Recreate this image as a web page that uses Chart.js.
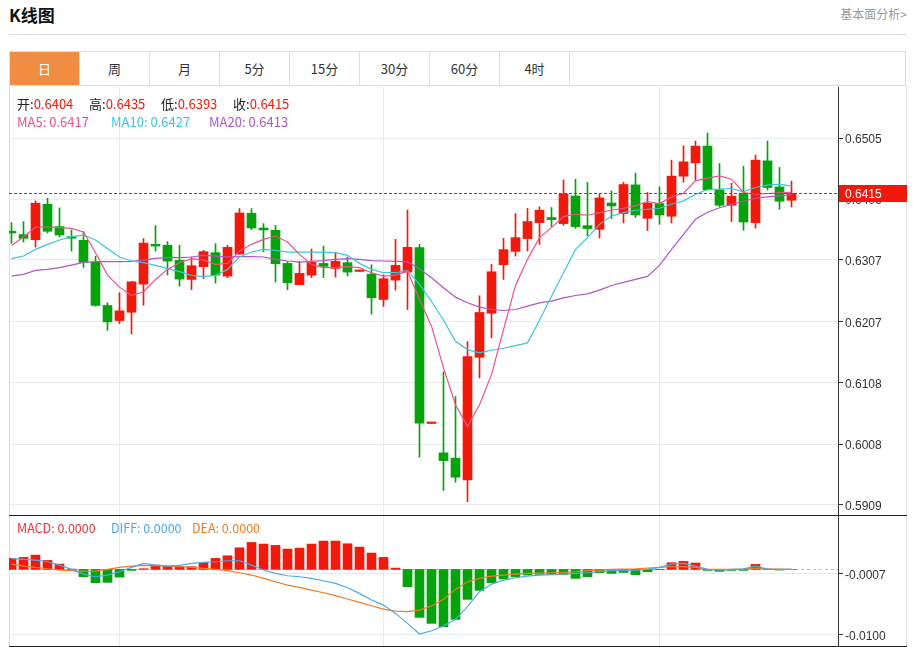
<!DOCTYPE html>
<html>
<head>
<meta charset="utf-8">
<script src="https://cdn.jsdelivr.net/npm/chart.js@4.4.0/dist/chart.umd.min.js"></script>
<style>
    body { margin: 0; background: #fff; font-family: "Noto Sans CJK SC", "Noto Sans", sans-serif; }
    #page { position: relative; width: 914px; height: 647px; overflow: hidden; }
    .abs { position: absolute; }
    #title { left: 9px; top: 2px; font-size: 17px; font-weight: bold; color: #111; }
    #more { right: 7px; top: 5px; font-size: 12px; color: #999; }
    #hr { left: 9px; top: 34px; width: 898px; height: 1px; background: #dcdcdc; }
    #tabs { left: 9px; top: 51px; width: 897px; height: 35px; border: 1px solid #dedede; display: flex; box-sizing: border-box; }
    .tab { width: 70px; height: 100%; border-right: 1px solid #dedede; box-sizing: border-box; text-align: center; line-height: 33px; font-size: 13px; color: #333; }
    .tab.on { background: #f28c40; color: #fff; }
    #frame { left: 9px; top: 86px; width: 898px; height: 561px; border-left: 1px solid #dedede; border-right: 1px solid #dedede; box-sizing: border-box; }
    .info { font-size: 13px; white-space: nowrap; }
    .k { color: #222; }
    .v { color: #f2190a; }
    .sep { height: 1px; background: #222; left: 9px; width: 898px; }
</style>
</head>
<body>
<div id="page">
    <div id="title" class="abs">K线图</div>
    <div id="more" class="abs">基本面分析&gt;</div>
    <div id="hr" class="abs"></div>
    <div id="tabs" class="abs">
        <div class="tab on">日</div><div class="tab">周</div><div class="tab">月</div><div class="tab">5分</div>
        <div class="tab">15分</div><div class="tab">30分</div><div class="tab">60分</div><div class="tab">4时</div>
    </div>
    <div id="frame" class="abs"></div>
    <div class="abs" style="left:9px;top:87px;width:898px;height:428px;"><canvas id="klineChart" width="898" height="428"></canvas></div>
    <div class="abs sep" style="top:515px;"></div>
    <div class="abs" style="left:9px;top:516px;width:898px;height:130px;"><canvas id="macdChart" width="898" height="130"></canvas></div>
    <div class="abs sep" style="top:646px;"></div>

    <div class="abs info" style="left:17px;top:94px;"><span class="k">开:</span><span class="v">0.6404</span></div>
    <div class="abs info" style="left:89px;top:94px;"><span class="k">高:</span><span class="v">0.6435</span></div>
    <div class="abs info" style="left:161px;top:94px;"><span class="k">低:</span><span class="v">0.6393</span></div>
    <div class="abs info" style="left:233px;top:94px;"><span class="k">收:</span><span class="v">0.6415</span></div>
    <div class="abs info" style="left:17px;top:112px;color:#f2508c;">MA5: 0.6417</div>
    <div class="abs info" style="left:111px;top:112px;color:#3cc5dc;">MA10: 0.6427</div>
    <div class="abs info" style="left:209px;top:112px;color:#b254c8;">MA20: 0.6413</div>

    <div class="abs info" style="left:17px;top:518px;font-size:12.5px;color:#f2303a;">MACD: 0.0000</div>
    <div class="abs info" style="left:111px;top:518px;font-size:12.5px;color:#4ea8f0;">DIFF: 0.0000</div>
    <div class="abs info" style="left:192px;top:518px;font-size:12.5px;color:#f47b20;">DEA: 0.0000</div>
</div>

<script>
// daily candles, oldest first
const openP = [0.63536, 0.63482, 0.63400, 0.63975, 0.63612, 0.63449, 0.63389, 0.63036, 0.62331, 0.62086,
    0.62221, 0.62677, 0.63324, 0.63308, 0.63063, 0.62754, 0.62961, 0.63189, 0.62808, 0.63166,
    0.63829, 0.63589, 0.63552, 0.63014, 0.62668, 0.62824, 0.63014, 0.62933, 0.63026, 0.62884,
    0.62840, 0.62428, 0.62743, 0.62873, 0.63270, 0.60414, 0.59937, 0.59850, 0.59497, 0.61489,
    0.62205, 0.62993, 0.63210, 0.63417, 0.63677, 0.63759, 0.63661, 0.64110, 0.63628, 0.63568,
    0.63996, 0.63824, 0.64290, 0.63747, 0.63987, 0.63780, 0.64431, 0.64648, 0.64920, 0.64208,
    0.63959, 0.64154, 0.63677, 0.64680, 0.64257, 0.6404];
const highP = [0.63677, 0.63694, 0.64029, 0.64073, 0.63915, 0.63557, 0.63531, 0.63129, 0.62375, 0.62537,
    0.62721, 0.63417, 0.63628, 0.63368, 0.63308, 0.63117, 0.63226, 0.63335, 0.63308, 0.63905,
    0.63905, 0.63661, 0.63633, 0.63042, 0.63047, 0.63247, 0.63296, 0.63182, 0.63117, 0.62884,
    0.62993, 0.62830, 0.63405, 0.63882, 0.63324, 0.60414, 0.61251, 0.60854, 0.61744, 0.62489,
    0.62998, 0.63422, 0.63824, 0.63910, 0.63931, 0.63922, 0.64371, 0.64382, 0.64329, 0.64138,
    0.64192, 0.64333, 0.64480, 0.64166, 0.64257, 0.64692, 0.64925, 0.65001, 0.65131, 0.64638,
    0.64317, 0.64594, 0.64773, 0.65001, 0.64573, 0.6435];
const lowP = [0.63340, 0.63361, 0.63280, 0.63508, 0.63443, 0.63215, 0.62949, 0.62319, 0.61928, 0.62037,
    0.61870, 0.62335, 0.63215, 0.62824, 0.62645, 0.62586, 0.62765, 0.62694, 0.62782, 0.63161,
    0.63563, 0.63205, 0.62710, 0.62586, 0.62668, 0.62782, 0.62782, 0.62791, 0.62808, 0.62884,
    0.62189, 0.62314, 0.62580, 0.62265, 0.59867, 0.60414, 0.59323, 0.59460, 0.59144, 0.61153,
    0.61805, 0.62754, 0.63133, 0.63215, 0.63324, 0.63612, 0.63633, 0.63584, 0.63459, 0.63426,
    0.63742, 0.63671, 0.63759, 0.63547, 0.63650, 0.63671, 0.64333, 0.64366, 0.64208, 0.63938,
    0.63694, 0.63552, 0.63589, 0.64208, 0.63894, 0.6393];
const closeP = [0.63508, 0.63422, 0.63992, 0.63536, 0.63475, 0.63422, 0.63031, 0.62331, 0.62065, 0.62244,
    0.62716, 0.63345, 0.63296, 0.63052, 0.62759, 0.62977, 0.63205, 0.62824, 0.63275, 0.63834,
    0.63589, 0.63557, 0.63010, 0.62700, 0.62852, 0.63031, 0.62966, 0.63047, 0.62873, 0.62884,
    0.62456, 0.62765, 0.62982, 0.63275, 0.60420, 0.60414, 0.59811, 0.59541, 0.61500, 0.62217,
    0.62879, 0.63238, 0.63433, 0.63694, 0.63878, 0.63726, 0.64143, 0.63612, 0.63580, 0.64078,
    0.63948, 0.64296, 0.63801, 0.63992, 0.63801, 0.64431, 0.64664, 0.64920, 0.64208, 0.63959,
    0.64106, 0.63687, 0.64692, 0.64247, 0.64024, 0.6415];

const ma5 = [0.63307, 0.63443, 0.63606, 0.63606, 0.63596, 0.63584, 0.63524, 0.63188, 0.62824, 0.62629,
    0.62493, 0.62554, 0.62754, 0.62917, 0.63026, 0.63091, 0.63069, 0.62999, 0.63015, 0.63214,
    0.63324, 0.63405, 0.63459, 0.63361, 0.63161, 0.62999, 0.62945, 0.62950, 0.62961, 0.62945,
    0.62863, 0.62808, 0.62824, 0.62889, 0.62428, 0.61994, 0.61316, 0.60718, 0.60365, 0.60718,
    0.61207, 0.61940, 0.62656, 0.63080, 0.63433, 0.63596, 0.63775, 0.63813, 0.63797, 0.63840,
    0.63878, 0.63910, 0.63948, 0.64020, 0.63987, 0.64095, 0.64154, 0.64355, 0.64399, 0.64436,
    0.64382, 0.64166, 0.64138, 0.64150, 0.64159, 0.6417];
const ma10 = [0.63091, 0.63134, 0.63242, 0.63324, 0.63394, 0.63449, 0.63475, 0.63394, 0.63253, 0.63118,
    0.63053, 0.63026, 0.62983, 0.62929, 0.62880, 0.62819, 0.62798, 0.62819, 0.62917, 0.63118,
    0.63199, 0.63242, 0.63226, 0.63199, 0.63199, 0.63199, 0.63199, 0.63188, 0.63145, 0.63015,
    0.62917, 0.62863, 0.62863, 0.62901, 0.62673, 0.62400, 0.62091, 0.61749, 0.61614, 0.61560,
    0.61603, 0.61636, 0.61679, 0.61723, 0.62091, 0.62482, 0.62863, 0.63242, 0.63433, 0.63649,
    0.63785, 0.63840, 0.63878, 0.63894, 0.63910, 0.63976, 0.64030, 0.64138, 0.64215, 0.64220,
    0.64231, 0.64176, 0.64247, 0.64285, 0.64301, 0.6427];
const ma20 = [0.62808, 0.62835, 0.62901, 0.62917, 0.62945, 0.62987, 0.63031, 0.63042, 0.63042, 0.63042,
    0.63047, 0.63069, 0.63096, 0.63107, 0.63107, 0.63118, 0.63145, 0.63134, 0.63118, 0.63124,
    0.63124, 0.63118, 0.63080, 0.63053, 0.63036, 0.63047, 0.63058, 0.63080, 0.63091, 0.63080,
    0.63058, 0.63053, 0.63047, 0.63042, 0.62928, 0.62781, 0.62618, 0.62466, 0.62374, 0.62303,
    0.62265, 0.62249, 0.62265, 0.62319, 0.62374, 0.62401, 0.62455, 0.62493, 0.62520, 0.62580,
    0.62656, 0.62705, 0.62754, 0.62803, 0.62982, 0.63242, 0.63487, 0.63731, 0.63845, 0.63918,
    0.63975, 0.64024, 0.64073, 0.64094, 0.64110, 0.6413];

const macdHist = [0.00168, 0.00183, 0.00218, 0.00137, 0.00081, 0.00005, -0.00112, -0.00203, -0.00198, -0.00117,
    -0.00015, 0.00010, 0.00066, 0.00051, 0.00041, 0.00041, 0.00107, 0.00168, 0.00208, 0.00330,
    0.00411, 0.00386, 0.00366, 0.00310, 0.00325, 0.00386, 0.00432, 0.00432, 0.00391, 0.00340,
    0.00249, 0.00183, 0.00020, -0.00264, -0.00732, -0.00823, -0.00874, -0.00762, -0.00457, -0.00320,
    -0.00203, -0.00147, -0.00112, -0.00086, -0.00076, -0.00076, -0.00076, -0.00137, -0.00112, -0.00051,
    -0.00061, -0.00046, -0.00081, -0.00036, -0.00005, 0.00102, 0.00122, 0.00097, -0.00015, -0.00030,
    -0.00015, -0.00015, 0.00076, 0.00005, -0.00010, 0];
const diffLine = [0.00163, 0.00152, 0.00142, 0.00117, 0.00066, 0, -0.00071, -0.00112, -0.00086, -0.00036,
    0.00030, 0.00091, 0.00066, 0.00051, 0.00061, 0.00091, 0.00107, 0.00117, 0.00132, 0.00132,
    0.00066, -0.00010, -0.00061, -0.00097, -0.00112, -0.00137, -0.00173, -0.00213, -0.00279, -0.00366,
    -0.00467, -0.00544, -0.00671, -0.00823, -0.00986, -0.00935, -0.00864, -0.00762, -0.00569, -0.00340,
    -0.00224, -0.00163, -0.00127, -0.00102, -0.00086, -0.00081, -0.00071, -0.00061, -0.00051, -0.00036,
    -0.00020, -0.00015, -0.00010, 0, 0.00030, 0.00081, 0.00091, 0.00051, 0, -0.00010,
    0, 0.00010, 0.00051, 0.00005, 0, 0];
const deaLine = [0.00081, 0.00051, 0.00030, 0.00010, -0.00010, -0.00020, -0.00030, -0.00025, 0, 0.00030,
    0.00051, 0.00061, 0.00056, 0.00051, 0.00041, 0.00030, 0.00015, 0, -0.00020, -0.00051,
    -0.00086, -0.00137, -0.00188, -0.00239, -0.00274, -0.00315, -0.00356, -0.00401, -0.00452, -0.00503,
    -0.00554, -0.00605, -0.00635, -0.00645, -0.00620, -0.00559, -0.00457, -0.00305, -0.00188, -0.00137,
    -0.00102, -0.00086, -0.00071, -0.00061, -0.00056, -0.00051, -0.00046, -0.00036, -0.00020, -0.00010,
    0, 0.00005, 0.00010, 0.00020, 0.00030, 0.00041, 0.00041, 0.00030, 0.00005, 0,
    0, 0.00005, 0.00020, 0.00010, 0.00005, 0];

const priceTicks = [0.6505, 0.6406, 0.6307, 0.6207, 0.6108, 0.6008, 0.5909];
const macdTicks = [-0.0007, -0.0100];
const monthStarts = [9, 31, 54];   // candle index where the vertical grid lines fall

const RED = '#f2190a';
const GREEN = '#04a30c';
const GRID = '#e4ebf1';
const AXIS_FONT = { family: 'Liberation Sans', size: 12 };
const X_MIN = -0.208, X_MAX = 68.875;

const idx = closeP.map((_, i) => i);
const isUp = i => closeP[i] >= openP[i];

function noPadding(s) {
    s.paddingTop = 0;
    s.paddingBottom = 0;
    s.paddingLeft = 0;
    s.paddingRight = 0;
}

function rightAxis(min, max, ticks) {
    return {
        position: 'right', min: min, max: max,
        afterBuildTicks: s => { s.ticks = ticks.map(v => ({ value: v })); },
        afterFit: s => { s.width = 69; noPadding(s); },
        ticks: { callback: v => v.toFixed(4), font: AXIS_FONT, color: '#333', padding: 2, labelOffset: 2 },
        grid: { color: GRID, tickColor: '#333', tickLength: 5 },
        border: { color: '#333' }
    };
}

const xAxis = {
    type: 'linear', min: X_MIN, max: X_MAX, offset: false,
    afterBuildTicks: s => { s.ticks = monthStarts.map(v => ({ value: v })); },
    afterFit: s => { s.height = 0; noPadding(s); },
    ticks: { display: false },
    grid: { color: GRID, drawTicks: false, offset: false },
    border: { display: false }
};

// last price: dotted line across the chart + red label on the axis
const lastPricePlugin = {
    id: 'lastPrice',
    afterDraw(chart) {
        const ctx = chart.ctx, a = chart.chartArea;
        const last = closeP[closeP.length - 1];
        const y = Math.round(chart.scales.y.getPixelForValue(last)) + 0.5;
        ctx.save();
        ctx.strokeStyle = RED;
        ctx.lineWidth = 1;
        ctx.setLineDash([3, 2]);
        ctx.beginPath();
        ctx.moveTo(a.left, y);
        ctx.lineTo(a.right, y);
        ctx.stroke();
        ctx.setLineDash([]);
        ctx.fillStyle = RED;
        ctx.fillRect(a.right + 1, y - 8.5, 68, 17);
        ctx.fillStyle = '#fff';
        ctx.font = '12px "Liberation Sans"';
        ctx.textBaseline = 'middle';
        ctx.fillText(last.toFixed(4), a.right + 7, y + 1);
        ctx.restore();
    }
};

const zeroLinePlugin = {
    id: 'zeroLine',
    beforeDatasetsDraw(chart) {
        const ctx = chart.ctx, a = chart.chartArea;
        const y = Math.round(chart.scales.y.getPixelForValue(0)) + 0.5;
        ctx.save();
        ctx.strokeStyle = '#9ccbe4';
        ctx.setLineDash([3, 3]);
        ctx.beginPath();
        ctx.moveTo(a.left, y);
        ctx.lineTo(a.right, y);
        ctx.stroke();
        ctx.restore();
    }
};

function lineSet(values, color) {
    return {
        type: 'line',
        data: values.map((v, i) => ({ x: i, y: v })),
        borderColor: color, borderWidth: 1.2,
        pointRadius: 0, tension: 0, fill: false, clip: 0
    };
}

document.addEventListener('DOMContentLoaded', function() {
    Chart.defaults.animation = false;

    // Candlestick Chart
    const klineCtx = document.getElementById('klineChart');
    new Chart(klineCtx, {
        type: 'bar',
        data: {
            datasets: [
                lineSet(ma5, '#f2508c'),
                lineSet(ma10, '#3cc5dc'),
                lineSet(ma20, '#b254c8'),
                {
                    label: 'body',
                    data: idx.map(i => ({ x: i, y: [openP[i], closeP[i]] })),
                    backgroundColor: idx.map(i => isUp(i) ? RED : GREEN),
                    grouped: false, barPercentage: 1, categoryPercentage: 1,
                    maxBarThickness: 9, minBarLength: 1.5, clip: 0
                },
                {
                    label: 'wick',
                    data: idx.map(i => ({ x: i, y: [lowP[i], highP[i]] })),
                    backgroundColor: idx.map(i => isUp(i) ? RED : GREEN),
                    grouped: false, barPercentage: 1, categoryPercentage: 1,
                    maxBarThickness: 1, clip: 0
                }
            ]
        },
        options: {
            responsive: false,
            animation: false,
            layout: { padding: 0 },
            plugins: { legend: { display: false }, tooltip: { enabled: false } },
            scales: {
                x: xAxis,
                y: rightAxis(0.58927, 0.65880, priceTicks)
            }
        },
        plugins: [lastPricePlugin]
    });

    // MACD Chart
    const macdCtx = document.getElementById('macdChart');
    new Chart(macdCtx, {
        type: 'bar',
        data: {
            datasets: [
                lineSet(diffLine, '#4ea8f0'),
                lineSet(deaLine, '#f47b20'),
                {
                    label: 'MACD',
                    data: idx.map(i => ({ x: i, y: macdHist[i] })),
                    backgroundColor: idx.map(i => macdHist[i] >= 0 ? RED : GREEN),
                    grouped: false, barPercentage: 1, categoryPercentage: 1,
                    maxBarThickness: 9, clip: 0
                }
            ]
        },
        options: {
            responsive: false,
            animation: false,
            layout: { padding: 0 },
            plugins: { legend: { display: false }, tooltip: { enabled: false } },
            scales: {
                x: xAxis,
                y: rightAxis(-0.011679, 0.008142, macdTicks)
            }
        },
        plugins: [zeroLinePlugin]
    });
});
</script>
</body>
</html>
